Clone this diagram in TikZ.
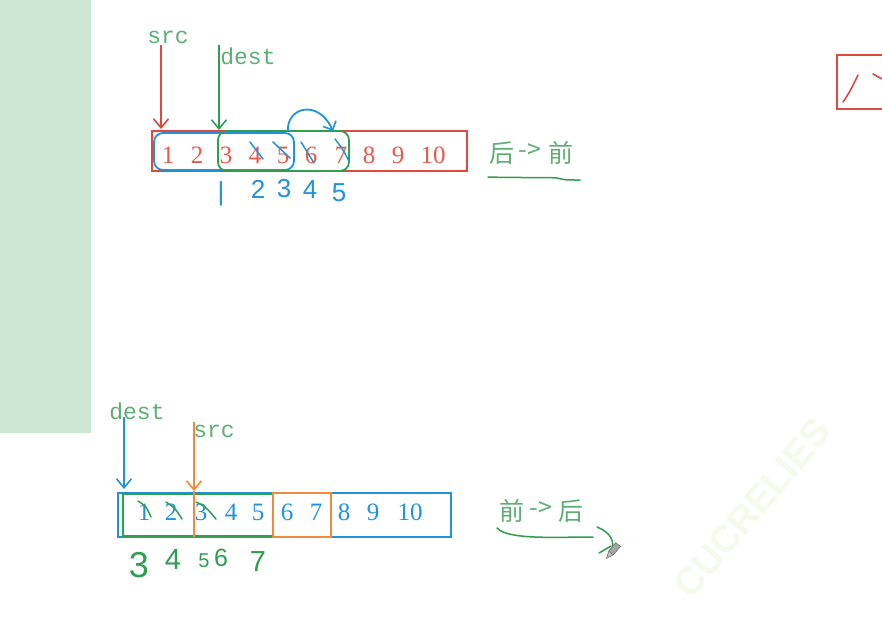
\documentclass[tikz,border=0pt]{standalone}
\usepackage{fontspec}
\setmainfont{Liberation Serif}
\newfontfamily\monof{Liberation Mono}
\newfontfamily\cjkf{Noto Sans CJK SC}
\newfontfamily\handf{Liberation Sans}
\usetikzlibrary{arrows.meta}
\definecolor{panel}{HTML}{CDE5D3}
\definecolor{redbox}{HTML}{E0473D}
\definecolor{reddig}{HTML}{E65A4C}
\definecolor{glab}{HTML}{5DB075}
\definecolor{gline}{HTML}{2F9E4F}
\definecolor{hblue}{HTML}{1F93DC}
\definecolor{horange}{HTML}{F08A3C}
\definecolor{wmark}{HTML}{F5FAEC}
\tikzset{
  dig/.style={font=\fontsize{25}{27}\selectfont, inner sep=0pt},
  lab/.style={font=\monof\fontsize{23}{25}\selectfont, text=glab, inner sep=0pt},
  cjk/.style={font=\cjkf\fontsize{25}{27}\selectfont, text=glab, inner sep=0pt},
  hnum/.style={font=\handf\fontsize{26}{28}\selectfont, inner sep=0pt},
  hand/.style={line width=1.8pt, line cap=round, line join=round},
  barb/.style={-{Straight Barb[length=9pt,width=15pt,line width=1.6pt]}},
}
\begin{document}
\begin{tikzpicture}[x=1pt,y=-1pt]
\useasboundingbox (0,0) rectangle (882,622);
\clip (0,0) rectangle (882,622);
\fill[white] (0,0) rectangle (882,622);
% left panel
\fill[panel] (0,0) rectangle (91,433);
% watermark
\node[font=\handf\bfseries\fontsize{38}{40}\selectfont, text=wmark, rotate=50] (wm) at (752,508) {CUCRELIES};

% ================= top =================
\draw[redbox, line width=2.4pt] (152,131) rectangle (467,171);
\foreach \n/\x in {1/168,2/197,3/226,4/255,5/283,6/311,7/341,8/369,9/398,10/433}
  \node[dig, text=reddig] (t\n) at (\x,155) {\n};
% blue and green frames
\draw[hand, hblue, rounded corners=9pt] (154,133) rectangle (294,170);
\draw[hand, gline, rounded corners=9pt] (218,131) rectangle (349,171);
% labels and arrows
\node[lab] (src1) at (168,37) {src};
\node[lab] (dest1) at (248,56) {dest};
\coordinate (s1a) at (161,45);
\coordinate (s1b) at (161,129);
\coordinate (d1a) at (219,45);
\coordinate (d1b) at (219,130);
\draw[redbox, line width=1.5pt, barb] (s1a) -- (s1b);
\draw[gline, line width=1.5pt, barb] (d1a) -- (d1b);
% blue curved arrow
\coordinate (c1a) at (288,131);
\coordinate (c1b) at (333,131);
\draw[hand, hblue, -{Straight Barb[length=7pt,width=14pt,line width=1.6pt]}] (c1a) .. controls (286,108) and (318,98) .. (c1b);
% strikes
\draw[hand, hblue, line width=1.5pt] (250,142) -- (263,159);
\draw[hand, hblue, line width=1.5pt] (273,142) -- (290,158);
\draw[hand, hblue, line width=1.5pt] (301,142) -- (314,163);
\draw[hand, hblue, line width=1.5pt] (335,139) .. controls (342,148) .. (349,161);
% blue handwritten numbers
\node[hnum, text=hblue] (h0) at (221,194) {|};
\node[hnum, text=hblue] (h2) at (258,189) {2};
\node[hnum, text=hblue] (h3) at (284,189) {3};
\node[hnum, text=hblue] (h4) at (310,190) {4};
\node[hnum, text=hblue] (h5) at (339,193) {5};
% direction text
\node[cjk] (tz1) at (502,153) {后};
\node[cjk] (tz2) at (530,151) {->};
\node[cjk] (tz3) at (561,153) {前};
\draw[hand, gline, line width=1.5pt] (488,177) .. controls (520,178) and (545,177) .. (557,178) .. controls (565,180) .. (580,180);

% right edge box
\draw[redbox, line width=2.4pt] (837,55) rectangle (895,109);
\draw[hand, redbox, line width=1.6pt] (843,102) .. controls (850,92) and (853,85) .. (858,75);
\draw[hand, redbox, line width=1.6pt] (873,74) -- (882,79);

% ================= bottom =================
\draw[hblue, line width=2.2pt] (118,493) rectangle (451,537);
\foreach \n/\x in {1/144,2/171,3/201,4/231,5/258,6/287,7/316,8/344,9/373,10/410}
  \node[dig, text=hblue] (b\n) at (\x,512) {\n};
\draw[gline, line width=2.2pt] (123,494) rectangle (273,536);
\draw[horange, line width=2.2pt] (273,493) rectangle (331,537);
\node[lab] (dest2) at (137,411) {dest};
\node[lab] (src2) at (214,431) {src};
\coordinate (d2a) at (124,417);
\coordinate (d2b) at (124,489);
\coordinate (s2a) at (194,422);
\coordinate (s2b) at (194,491);
\coordinate (s2c) at (194,537);
\draw[hblue, line width=1.5pt, barb] (d2a) -- (d2b);
\draw[horange, line width=1.5pt, barb] (s2a) -- (s2b);
\draw[horange, line width=2pt] (s2b) -- (s2c);
% green strikes
\draw[hand, gline, line width=1.5pt] (138,501) .. controls (146,506) .. (151,517);
\draw[hand, gline, line width=1.5pt] (166,502) .. controls (175,508) .. (182,519);
\draw[hand, gline, line width=1.5pt] (196,502) .. controls (206,506) and (210,512) .. (216,519);
% green handwritten numbers
\node[hnum, text=gline, font=\handf\fontsize{36}{38}\selectfont] (g3) at (139,565) {3};
\node[hnum, text=gline, font=\handf\fontsize{29}{31}\selectfont] (g4) at (173,560) {4};
\node[hnum, text=gline, font=\handf\fontsize{20}{22}\selectfont] (g5) at (204,561) {5};
\node[hnum, text=gline, font=\handf\fontsize{25}{27}\selectfont] (g6) at (221,558) {6};
\node[hnum, text=gline, font=\handf\fontsize{29}{31}\selectfont] (g7) at (258,562) {7};
% direction text
\node[cjk] (bz1) at (512,511) {前};
\node[cjk] (bz2) at (541,509) {->};
\node[cjk] (bz3) at (571,511) {后};
\coordinate (ua) at (497,528);
\coordinate (ub) at (593,537);
\draw[hand, gline, line width=1.5pt] (ua) .. controls (508,540) and (555,537) .. (ub);
\draw[hand, gline, line width=1.5pt] (597,527) .. controls (610,532) and (616,542) .. (611,551);
\draw[hand, gline, line width=1.5pt] (599,553) -- (611,546);
% pencil cursor
\begin{scope}[shift={(611,553)}, rotate=-40]
  \fill[gray!70] (-3,-11) rectangle (3,0);
  \fill[gray!50] (-3,0) -- (3,0) -- (0,7) -- cycle;
  \draw[gray!90!black, line width=0.6pt] (-3,-11) rectangle (3,0) (-3,0) -- (0,7) -- (3,0);
\end{scope}
\end{tikzpicture}
\end{document}
